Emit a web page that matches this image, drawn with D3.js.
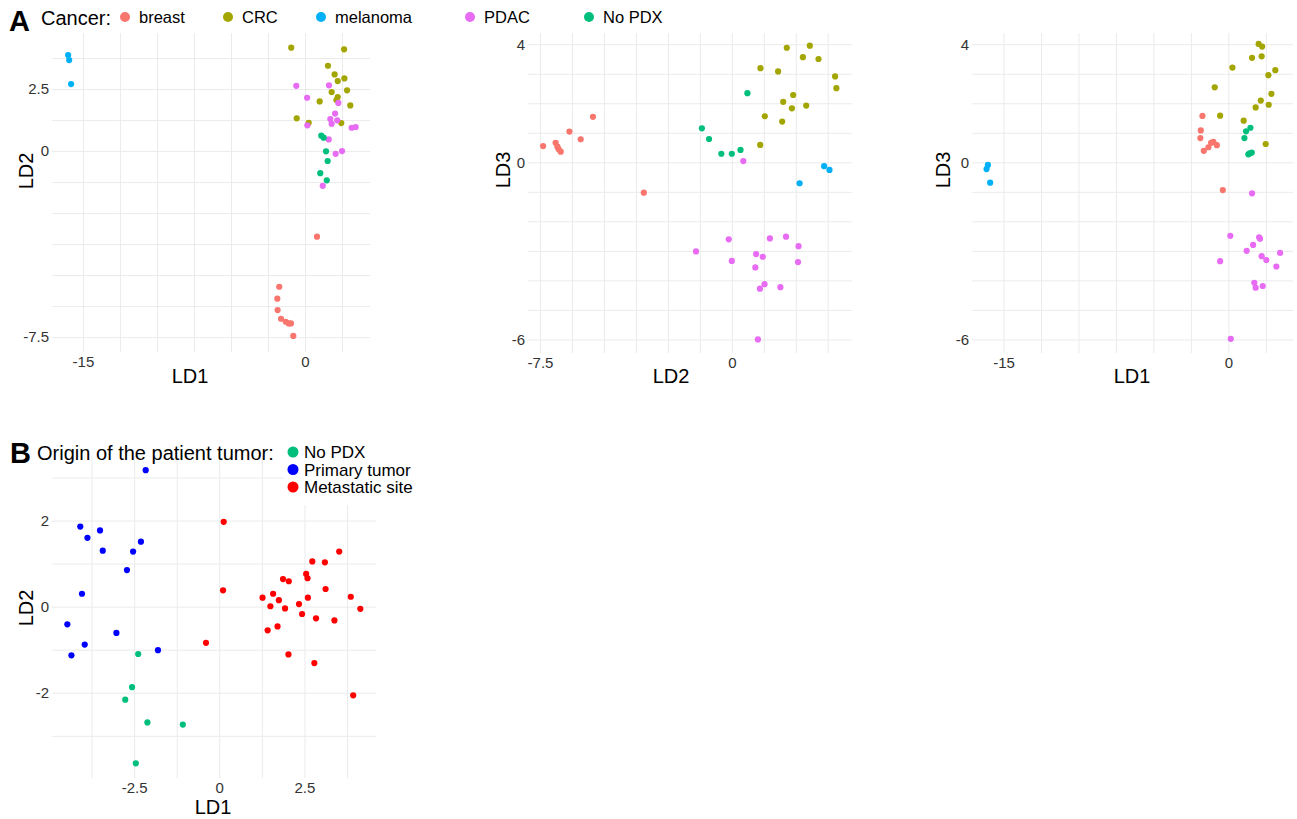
<!DOCTYPE html>
<html>
<head>
<meta charset="utf-8">
<script src="https://cdn.jsdelivr.net/npm/d3@7"></script>
<style>
  body { margin: 0; background: #fff; }
  svg text { font-family: "Liberation Sans", Arial, Helvetica, sans-serif; }
  .grid line { stroke: #ebebeb; stroke-width: 1; }
  .grid path, .ticks path { display: none; }
  .ticks text { fill: #333; font-size: 15px; }
</style>
</head>
<body>
<script>

// ---- data ----
var cancerTypes = ['breast', 'CRC', 'melanoma', 'PDAC', 'No PDX'];
var cancerColors = ['#F8766D', '#A3A500', '#00B0F6', '#E76BF3', '#00BF7D'];

var originTypes = ['No PDX', 'Primary tumor', 'Metastatic site'];
var originColors = ['#00BF7D', '#0000FF', '#FF0000'];

// panel A, LD1 vs LD2  [group, LD1, LD2]
var ld1ld2 = [
  ['melanoma', -16.0, 3.87], ['melanoma', -15.93, 3.67], ['melanoma', -15.8, 2.70],
  ['CRC', -0.93, 4.17], ['CRC', 2.64, 4.10], ['CRC', 1.55, 3.44], ['CRC', 2.0, 3.09],
  ['CRC', 2.66, 2.93], ['CRC', 2.21, 2.82], ['CRC', 2.84, 2.45], ['CRC', 1.80, 2.38],
  ['CRC', 2.21, 2.18], ['CRC', 2.12, 2.06], ['CRC', 0.99, 2.0], ['CRC', 3.06, 1.84],
  ['CRC', -0.56, 1.32], ['CRC', 0.25, 1.14], ['CRC', 2.45, 1.13],
  ['PDAC', -0.59, 2.63], ['PDAC', 1.62, 2.65], ['PDAC', 0.14, 2.15], ['PDAC', 2.25, 1.94],
  ['PDAC', 2.03, 1.51], ['PDAC', 1.71, 1.29], ['PDAC', 2.18, 1.24], ['PDAC', 1.80, 1.10],
  ['PDAC', 0.16, 1.04], ['PDAC', 3.15, 0.94], ['PDAC', 3.42, 0.97], ['PDAC', 1.60, 0.47],
  ['PDAC', 2.5, 0.0], ['PDAC', 2.07, -0.11], ['PDAC', 1.20, -1.40],
  ['No PDX', 1.10, 0.62], ['No PDX', 1.26, 0.54], ['No PDX', 1.42, -0.01],
  ['No PDX', 1.53, -0.40], ['No PDX', 1.03, -0.89], ['No PDX', 1.47, -1.18],
  ['breast', 0.81, -3.45], ['breast', -1.74, -5.47], ['breast', -1.87, -5.95],
  ['breast', -1.85, -6.41], ['breast', -1.62, -6.76], ['breast', -1.30, -6.88],
  ['breast', -1.10, -6.95], ['breast', -0.95, -6.95], ['breast', -0.79, -7.45]
];

// panel A, LD2 vs LD3  [group, LD2, LD3]
var ld2ld3 = [
  ['breast', -7.38, 0.55], ['breast', -6.89, 0.66], ['breast', -6.82, 0.53],
  ['breast', -6.77, 0.44], ['breast', -6.69, 0.36], ['breast', -6.35, 1.04],
  ['breast', -5.91, 0.78], ['breast', -5.43, 1.54], ['breast', -3.44, -1.03],
  ['CRC', 2.15, 3.88], ['CRC', 3.05, 3.95], ['CRC', 2.78, 3.56], ['CRC', 3.39, 3.50],
  ['CRC', 1.12, 3.19], ['CRC', 1.81, 3.08], ['CRC', 4.04, 2.91], ['CRC', 4.09, 2.51],
  ['CRC', 2.40, 2.28], ['CRC', 2.01, 2.05], ['CRC', 2.35, 1.83], ['CRC', 2.91, 1.92],
  ['CRC', 1.29, 1.56], ['CRC', 1.97, 1.38], ['CRC', 1.11, 0.59],
  ['No PDX', 0.61, 2.34], ['No PDX', -1.17, 1.15], ['No PDX', -0.89, 0.79],
  ['No PDX', -0.41, 0.29], ['No PDX', 0.0, 0.29], ['No PDX', 0.34, 0.42],
  ['melanoma', 3.61, -0.13], ['melanoma', 3.82, -0.26], ['melanoma', 2.65, -0.71],
  ['PDAC', 0.45, 0.04], ['PDAC', -0.12, -2.61], ['PDAC', 1.49, -2.58], ['PDAC', 2.12, -2.52],
  ['PDAC', 2.61, -2.84], ['PDAC', -1.40, -3.02], ['PDAC', 0.95, -3.11], ['PDAC', 1.21, -3.20],
  ['PDAC', 0.0, -3.34], ['PDAC', 2.59, -3.38], ['PDAC', 0.92, -3.56], ['PDAC', 1.28, -4.13],
  ['PDAC', 1.90, -4.23], ['PDAC', 1.10, -4.28], ['PDAC', 1.02, -6.0]
];

// panel A, LD1 vs LD3  [group, LD1, LD3]
var ld1ld3 = [
  ['melanoma', -16.04, -0.09], ['melanoma', -16.13, -0.23], ['melanoma', -15.89, -0.69],
  ['breast', -1.73, 1.57], ['breast', -1.84, 1.08], ['breast', -1.87, 0.82],
  ['breast', -1.64, 0.39], ['breast', -1.33, 0.51], ['breast', -1.15, 0.66],
  ['breast', -1.0, 0.69], ['breast', -0.77, 0.58], ['breast', -0.37, -0.94],
  ['No PDX', 1.47, 1.17], ['No PDX', 1.18, 1.05], ['No PDX', 1.07, 0.82],
  ['No PDX', 1.33, 0.27], ['No PDX', 1.42, 0.30], ['No PDX', 1.56, 0.33],
  ['CRC', 2.02, 4.01], ['CRC', 2.25, 3.92], ['CRC', 1.58, 3.54], ['CRC', 2.22, 3.59],
  ['CRC', 0.27, 3.21], ['CRC', 3.13, 3.12], ['CRC', 2.67, 2.95], ['CRC', -0.91, 2.54],
  ['CRC', 2.87, 2.32], ['CRC', 2.16, 2.09], ['CRC', 1.82, 1.86], ['CRC', 2.69, 1.95],
  ['CRC', -0.55, 1.58], ['CRC', 1.02, 1.41], ['CRC', 2.49, 0.62],
  ['PDAC', 1.58, -1.05], ['PDAC', 0.13, -2.49], ['PDAC', 2.05, -2.54], ['PDAC', 2.11, -2.59],
  ['PDAC', 1.65, -2.80], ['PDAC', 1.22, -3.0], ['PDAC', 3.45, -3.07], ['PDAC', 2.22, -3.18],
  ['PDAC', 2.53, -3.31], ['PDAC', -0.55, -3.35], ['PDAC', 3.2, -3.53], ['PDAC', 1.73, -4.08],
  ['PDAC', 1.82, -4.25], ['PDAC', 2.29, -4.19], ['PDAC', 0.16, -5.98]
];

// panel B, LD1 vs LD2 by origin  [group, LD1, LD2]
var originLd = [
  ['Primary tumor', -4.08, 1.86], ['Primary tumor', -3.87, 1.60], ['Primary tumor', -3.50, 1.77],
  ['Primary tumor', -3.42, 1.30], ['Primary tumor', -2.53, 1.28], ['Primary tumor', -2.30, 1.51],
  ['Primary tumor', -2.71, 0.85], ['Primary tumor', -4.03, 0.30], ['Primary tumor', -4.46, -0.41],
  ['Primary tumor', -3.02, -0.61], ['Primary tumor', -3.95, -0.88], ['Primary tumor', -4.34, -1.13],
  ['Primary tumor', -1.80, -1.01], ['Primary tumor', -2.16, 3.17],
  ['No PDX', -2.38, -1.10], ['No PDX', -2.56, -1.87], ['No PDX', -2.76, -2.16],
  ['No PDX', -2.11, -2.69], ['No PDX', -1.07, -2.74], ['No PDX', -2.45, -3.64],
  ['Metastatic site', 0.13, 1.97], ['Metastatic site', 0.11, 0.38], ['Metastatic site', -0.39, -0.84],
  ['Metastatic site', 1.27, 0.21], ['Metastatic site', 1.58, 0.30], ['Metastatic site', 1.50, 0.01],
  ['Metastatic site', 1.75, 0.15], ['Metastatic site', 1.87, 0.64], ['Metastatic site', 2.04, 0.59],
  ['Metastatic site', 1.93, -0.04], ['Metastatic site', 1.42, -0.55], ['Metastatic site', 1.71, -0.46],
  ['Metastatic site', 2.03, -1.11], ['Metastatic site', 2.34, 0.06], ['Metastatic site', 2.43, -0.17],
  ['Metastatic site', 2.55, 0.76], ['Metastatic site', 2.59, 0.66], ['Metastatic site', 2.60, 0.21],
  ['Metastatic site', 2.73, 1.05], ['Metastatic site', 2.84, -0.27], ['Metastatic site', 2.79, -1.31],
  ['Metastatic site', 3.10, 1.03], ['Metastatic site', 3.12, 0.41], ['Metastatic site', 3.38, -0.32],
  ['Metastatic site', 3.52, 1.28], ['Metastatic site', 3.86, 0.23], ['Metastatic site', 4.14, -0.05],
  ['Metastatic site', 3.93, -2.06]
];

// tick labels and grid lines
var ticksLD1wide = [-15, 0];
var gridLD1wide = [-15, -12.5, -10, -7.5, -5, -2.5, 0, 2.5];
var ticksLD2a = [2.5, 0, -7.5];
var gridLD2a = [-7.5, -6.25, -5, -3.75, -2.5, -1.25, 0, 1.25, 2.5, 3.75];
var ticksLD2x = [-7.5, 0];
var gridLD2x = [-7.5, -6.25, -5, -3.75, -2.5, -1.25, 0, 1.25, 2.5, 3.75];
var ticksLD3 = [4, 0, -6];
var gridLD3 = [-6, -5, -4, -3, -2, -1, 0, 1, 2, 3, 4];
var ticksBx = [-2.5, 0, 2.5];
var gridBx = [-3.75, -2.5, -1.25, 0, 1.25, 2.5, 3.75];
var ticksBy = [2, 0, -2];
var gridBy = [-3, -2, -1, 0, 1, 2, 3];

// ---- drawing ----
var W = 1297, H = 819;
var svg = d3.select('body').append('svg')
            .attr('width', W)
            .attr('height', H);

var cancerColor = d3.scaleOrdinal().domain(cancerTypes).range(cancerColors);
var originColor = d3.scaleOrdinal().domain(originTypes).range(originColors);

function fmt(d) { return String(d); }

function drawPanel(p) {
  var x = d3.scaleLinear().domain(p.xDomain).range([p.left, p.right]);
  var y = d3.scaleLinear().domain(p.yDomain).range([p.bottom, p.top]);
  var w = p.right - p.left;
  var h = p.bottom - p.top;

  // grid
  svg.append('g')
     .attr('class', 'grid')
     .attr('transform', 'translate(0,' + p.bottom + ')')
     .call(d3.axisBottom(x).tickValues(p.xGrid).tickSize(-h).tickFormat(''));
  svg.append('g')
     .attr('class', 'grid')
     .attr('transform', 'translate(' + p.left + ',0)')
     .call(d3.axisLeft(y).tickValues(p.yGrid).tickSize(-w).tickFormat(''));

  // tick labels
  svg.append('g')
     .attr('class', 'ticks')
     .attr('transform', 'translate(0,' + p.bottom + ')')
     .call(d3.axisBottom(x).tickValues(p.xTicks).tickSize(0).tickPadding(4).tickFormat(fmt));
  svg.append('g')
     .attr('class', 'ticks')
     .attr('transform', 'translate(' + p.left + ',0)')
     .call(d3.axisLeft(y).tickValues(p.yTicks).tickSize(0).tickPadding(3).tickFormat(fmt));

  // axis titles
  svg.append('text')
     .attr('x', p.xTitle[0]).attr('y', p.xTitle[1])
     .attr('text-anchor', 'middle')
     .style('font-size', '20px')
     .text(p.xLabel);
  svg.append('text')
     .attr('text-anchor', 'middle')
     .attr('transform', 'translate(' + p.yTitle[0] + ',' + p.yTitle[1] + ')rotate(-90)')
     .style('font-size', '20px')
     .text(p.yLabel);

  // points
  svg.append('g').selectAll('circle')
     .data(p.points)
     .join('circle')
     .attr('cx', function(d) { return x(d[1]); })
     .attr('cy', function(d) { return y(d[2]); })
     .attr('r', 3.1)
     .attr('fill', function(d) { return p.color(d[0]); });
}

drawPanel({
  left: 52, right: 370, top: 33, bottom: 352,
  xDomain: [-17.09, 4.39], yDomain: [-8.10, 4.76],
  xGrid: gridLD1wide, yGrid: gridLD2a, xTicks: ticksLD1wide, yTicks: ticksLD2a,
  xLabel: 'LD1', yLabel: 'LD2', xTitle: [190, 383], yTitle: [33, 171],
  points: ld1ld2, color: cancerColor
});

drawPanel({
  left: 528, right: 852, top: 33, bottom: 353,
  xDomain: [-7.97, 4.70], yDomain: [-6.46, 4.38],
  xGrid: gridLD2x, yGrid: gridLD3, xTicks: ticksLD2x, yTicks: ticksLD3,
  xLabel: 'LD2', yLabel: 'LD3', xTitle: [671, 383], yTitle: [510, 170],
  points: ld2ld3, color: cancerColor
});

drawPanel({
  left: 972, right: 1293, top: 33, bottom: 353,
  xDomain: [-17.1, 4.31], yDomain: [-6.46, 4.38],
  xGrid: gridLD1wide, yGrid: gridLD3, xTicks: ticksLD1wide, yTicks: ticksLD3,
  xLabel: 'LD1', yLabel: 'LD3', xTitle: [1132, 383], yTitle: [950, 170],
  points: ld1ld3, color: cancerColor
});

drawPanel({
  left: 52, right: 376, top: 456, bottom: 778,
  xDomain: [-4.91, 4.60], yDomain: [-3.98, 3.50],
  xGrid: gridBx, yGrid: gridBy, xTicks: ticksBx, yTicks: ticksBy,
  xLabel: 'LD1', yLabel: 'LD2', xTitle: [213, 814], yTitle: [33, 608],
  points: originLd, color: originColor
});

// ---- panel A header + legend ----
svg.append('text')
   .attr('x', 9).attr('y', 31)
   .style('font-size', '29px').style('font-weight', 'bold')
   .text('A');
svg.append('text')
   .attr('x', 41).attr('y', 25)
   .style('font-size', '20px')
   .text('Cancer:');

var legendAx = [125, 228, 321, 470, 589];
var legA = svg.append('g').selectAll('g')
              .data(cancerTypes)
              .join('g')
              .attr('transform', function(d, i) { return 'translate(' + legendAx[i] + ',17)'; });
legA.append('circle').attr('r', 5).attr('fill', function(d) { return cancerColor(d); });
legA.append('text')
    .attr('x', 14).attr('y', 6)
    .style('font-size', '16.5px')
    .text(function(d) { return d; });

// ---- panel B header + legend ----
svg.append('rect')
   .attr('x', 284).attr('y', 440)
   .attr('width', 136).attr('height', 65)
   .attr('fill', '#fff');
svg.append('text')
   .attr('x', 10).attr('y', 463)
   .style('font-size', '29px').style('font-weight', 'bold')
   .text('B');
svg.append('text')
   .attr('x', 37).attr('y', 460)
   .style('font-size', '20px')
   .text('Origin of the patient tumor:');

var legB = svg.append('g').selectAll('g')
              .data(originTypes)
              .join('g')
              .attr('transform', function(d, i) { return 'translate(293,' + (452 + i * 17.5) + ')'; });
legB.append('circle').attr('r', 5.5).attr('fill', function(d) { return originColor(d); });
legB.append('text')
    .attr('x', 11).attr('y', 6)
    .style('font-size', '17px')
    .text(function(d) { return d; });

</script>
</body>
</html>
